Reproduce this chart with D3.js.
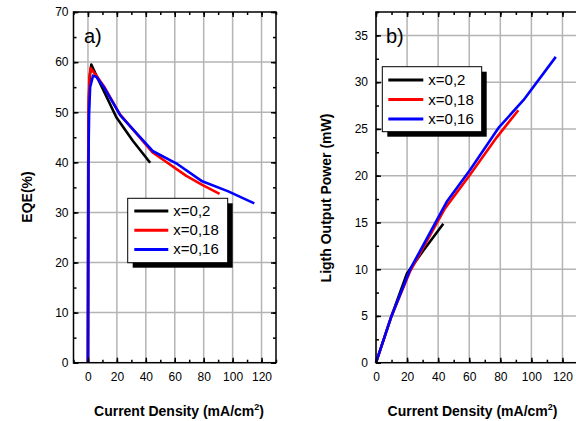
<!DOCTYPE html>
<html>
<head>
<meta charset="utf-8">
<script src="https://cdn.jsdelivr.net/npm/d3@7/dist/d3.min.js"></script>
<style>
  html, body { margin: 0; padding: 0; background: #fff; }
  svg { display: block; font-family: Arial, "Liberation Sans", sans-serif; }
</style>
</head>
<body>
<svg id="chart" width="576" height="421"></svg>
<script>
// Series labels
const seriesNames = ["x=0,2", "x=0,18", "x=0,16"];
const seriesColors = ["#000000", "#ff0000", "#0000ff"];

// Panel a) EQE (%) versus current density (mA/cm2)
const eqeJ_02  = [0, 0.2, 0.6, 1.2, 2.3, 5, 10, 19.6, 31, 43];
const eqe_02   = [0, 40, 52, 57, 59.5, 57.8, 54.8, 49.0, 44.3, 39.9];
const eqeJ_018 = [0, 0.2, 0.6, 1.0, 1.8, 5, 11, 22, 44.5, 68, 79, 91];
const eqe_018  = [0, 42, 53, 57, 58.8, 57.6, 55.2, 49.6, 42.0, 37.3, 35.5, 33.7];
const eqeJ_016 = [0, 0.3, 0.8, 1.5, 3.5, 6, 11, 22.5, 45, 61, 79, 97, 115];
const eqe_016  = [0, 40, 50, 55, 57.3, 57.0, 55.0, 49.3, 42.2, 39.8, 36.2, 34.2, 31.8];

// Panel b) light output power (mW) versus current density (mA/cm2)
const powJ_02  = [0, 10, 19.8, 30.5, 43.3];
const pow_02   = [0, 5, 9.5, 12.0, 14.85];
const powJ_018 = [0, 10, 22, 44.4, 60.5, 77.7, 91.6];
const pow_018  = [0, 5, 9.8, 16.5, 20.1, 24.1, 27.0];
const powJ_016 = [0, 10, 22, 45.5, 60.5, 78.8, 95, 115.7];
const pow_016  = [0, 5, 10, 17.2, 20.6, 25.1, 28.1, 32.7];

// Tick values
const xTicksA = [0, 20, 40, 60, 80, 100, 120];
const yTicksA = [0, 10, 20, 30, 40, 50, 60, 70];
const xTicksB = [0, 20, 40, 60, 80, 100, 120];
const yTicksB = [0, 5, 10, 15, 20, 25, 30, 35];

const svg = d3.select("#chart");

function zipSeries(xs, ys) { return xs.map((x, i) => [x, ys[i]]); }

function drawPanel(cfg) {
  const g = svg.append("g");
  const x = d3.scaleLinear().domain(cfg.xDomain).range([cfg.left, cfg.right]);
  const y = d3.scaleLinear().domain(cfg.yDomain).range([cfg.bottom, cfg.top]);

  // grid
  const grid = g.append("g").attr("stroke", "#b4b4b4").attr("stroke-width", 1.5);
  grid.selectAll("line.vx").data(cfg.xTicks).join("line")
    .attr("x1", d => x(d)).attr("x2", d => x(d))
    .attr("y1", cfg.top).attr("y2", cfg.bottom);
  grid.selectAll("line.hy").data(cfg.yTicks.filter(d => d > cfg.yDomain[0] && d < cfg.yDomain[1])).join("line")
    .attr("x1", cfg.left).attr("x2", cfg.right)
    .attr("y1", d => y(d)).attr("y2", d => y(d));

  // curves
  const line = d3.line().x(d => x(d[0])).y(d => y(d[1]));
  cfg.series.forEach((s, i) => {
    g.append("path").datum(s)
      .attr("fill", "none").attr("stroke", seriesColors[i])
      .attr("stroke-width", 2.6).attr("stroke-linejoin", "round")
      .attr("d", line);
  });

  // frame with inward ticks
  const minorX = d3.range(cfg.xDomain[0], cfg.xDomain[1] + 0.01, cfg.xMinor);
  const minorY = d3.range(cfg.yDomain[0], cfg.yDomain[1] + 0.01, cfg.yMinor);
  const axB = d3.axisBottom(x).tickValues(cfg.xTicks).tickSize(-5).tickFormat(d3.format("d")).tickPadding(10);
  const axL = d3.axisLeft(y).tickValues(cfg.yTicks).tickSize(-5).tickFormat(d3.format("d")).tickPadding(cfg.yPad);
  const axT = d3.axisTop(x).tickValues(cfg.xTicks).tickSize(-5).tickFormat("");
  const axR = d3.axisRight(y).tickValues(cfg.yTicks).tickSize(-5).tickFormat("");
  const mB = d3.axisBottom(x).tickValues(minorX).tickSize(-3).tickFormat("");
  const mL = d3.axisLeft(y).tickValues(minorY).tickSize(-3).tickFormat("");
  const mT = d3.axisTop(x).tickValues(minorX).tickSize(-3).tickFormat("");
  const mR = d3.axisRight(y).tickValues(minorY).tickSize(-3).tickFormat("");

  const place = (ax, tr) => {
    const a = g.append("g").attr("transform", tr).call(ax);
    a.select(".domain").remove();
    a.selectAll(".tick line").attr("stroke", "#000").attr("stroke-width", 1.5);
    a.selectAll("text").attr("font-size", 12).attr("fill", "#000")
      .attr("font-family", "Arial, 'Liberation Sans', sans-serif");
    return a;
  };
  place(mB, `translate(0,${cfg.bottom})`);
  place(mL, `translate(${cfg.left},0)`);
  place(mT, `translate(0,${cfg.top})`);
  place(axB, `translate(0,${cfg.bottom})`);
  place(axL, `translate(${cfg.left},0)`);
  place(axT, `translate(0,${cfg.top})`);
  if (cfg.rightTicks) {
    place(mR, `translate(${cfg.right},0)`);
    place(axR, `translate(${cfg.right},0)`);
  }

  g.append("rect")
    .attr("x", cfg.left).attr("y", cfg.top)
    .attr("width", cfg.right - cfg.left).attr("height", cfg.bottom - cfg.top)
    .attr("fill", "none").attr("stroke", "#000").attr("stroke-width", 1.5);

  // panel tag
  g.append("text").attr("x", cfg.tagX).attr("y", cfg.tagY)
    .attr("font-size", 20).text(cfg.tag);

  // axis titles
  const xt = g.append("text").attr("x", cfg.xTitleX).attr("y", 416)
    .attr("text-anchor", "middle").attr("font-size", 14).attr("font-weight", "bold");
  xt.append("tspan").text("Current Density (mA/cm");
  xt.append("tspan").attr("font-size", 9).attr("dy", -6).text("2");
  xt.append("tspan").attr("dy", 6).text(")");

  g.append("text")
    .attr("transform", `translate(${cfg.yTitleX},${cfg.yTitleY}) rotate(-90)`)
    .attr("text-anchor", "middle").attr("font-size", 14).attr("font-weight", "bold")
    .text(cfg.yTitle);

  // legend with drop shadow
  const L = cfg.legend;
  g.append("rect").attr("x", L.x + 5).attr("y", L.y + 5).attr("width", L.w).attr("height", L.h).attr("fill", "#000");
  g.append("rect").attr("x", L.x).attr("y", L.y).attr("width", L.w).attr("height", L.h)
    .attr("fill", "#fff").attr("stroke", "#000").attr("stroke-width", 1);
  seriesNames.forEach((name, i) => {
    const yy = L.y + L.row0 + i * L.rowH;
    g.append("line").attr("x1", L.x + L.lx0).attr("x2", L.x + L.lx1)
      .attr("y1", yy).attr("y2", yy)
      .attr("stroke", seriesColors[i]).attr("stroke-width", 3);
    g.append("text").attr("x", L.x + L.tx).attr("y", yy + 5)
      .attr("font-size", 15).text(name);
  });
}

drawPanel({
  left: 73.5, right: 276, top: 12, bottom: 362.7,
  xDomain: [-10, 130], yDomain: [0, 70],
  xTicks: xTicksA, yTicks: yTicksA, xMinor: 10, yMinor: 5, yPad: 5, rightTicks: true,
  series: [zipSeries(eqeJ_02, eqe_02), zipSeries(eqeJ_018, eqe_018), zipSeries(eqeJ_016, eqe_016)],
  tag: "a)", tagX: 84, tagY: 43,
  xTitleX: 179, yTitleX: 31.5, yTitleY: 197, yTitle: "EQE(%)",
  legend: { x: 127.7, y: 198.3, w: 100, h: 64.4, row0: 12.7, rowH: 19.2, lx0: 6.6, lx1: 40.6, tx: 45.6 }
});

drawPanel({
  left: 376, right: 578, top: 12, bottom: 362.7,
  xDomain: [0, 130], yDomain: [0, 37.5],
  xTicks: xTicksB, yTicks: yTicksB, xMinor: 10, yMinor: 2.5, yPad: 8, rightTicks: false,
  series: [zipSeries(powJ_02, pow_02), zipSeries(powJ_018, pow_018), zipSeries(powJ_016, pow_016)],
  tag: "b)", tagX: 386, tagY: 43,
  xTitleX: 472.5, yTitleX: 330.5, yTitleY: 198, yTitle: "Ligth Output Power (mW)",
  legend: { x: 382.3, y: 66.7, w: 99.4, h: 65, row0: 13.3, rowH: 19.5, lx0: 6, lx1: 41, tx: 46 }
});
</script>
</body>
</html>
